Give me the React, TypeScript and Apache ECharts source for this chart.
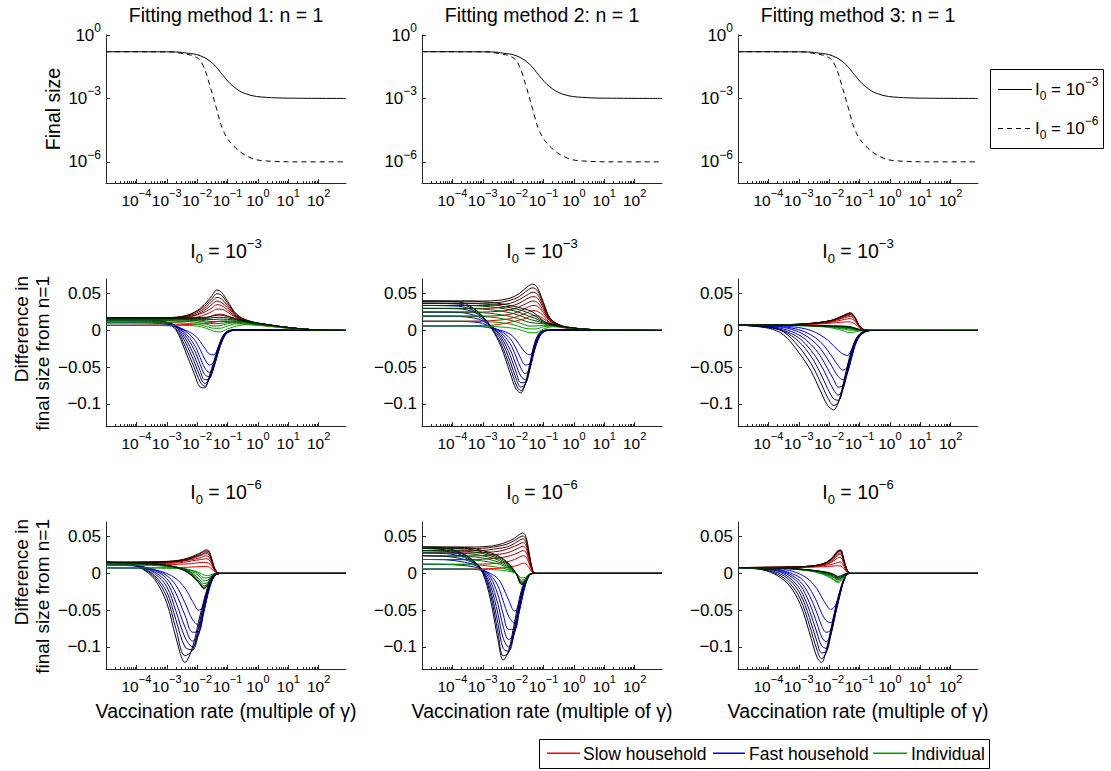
import React, { useEffect, useRef } from 'react';
import * as echarts from 'echarts';

const FONT = '"Liberation Sans", Arial, Helvetica, sans-serif';

// ---------- Top row: final size (n = 1), x = log10(vaccination rate) ----------
const TOP_X_I3 = [-5, -3, -2.6, -2.35, -1.9, -1.47, -1.14, -0.81, -0.37, 0.29, 1.4, 2.9];
const FINAL_SIZE_I3 = [0.162, 0.16, 0.155, 0.14, 0.105, 0.043, 0.0118, 0.0037, 0.0016, 0.00112, 0.00102, 0.001];
const TOP_X_I6 = [-5, -3, -2.57, -2.02, -1.8, -1.58, -1.36, -1.14, -0.81, -0.26, 0.29, 1.4, 2.9];
const FINAL_SIZE_I6 = [0.162, 0.16, 0.14, 0.087, 0.035, 0.004, 3.2e-4, 3.0e-5, 5.8e-6, 1.6e-6, 1.1e-6, 1.0e-6, 1.0e-6];

// ---------- Method 1, I0 = 1e-3 ----------
const M1_I3_RED_X = [-5, -3.0, -2.4, -2.0, -1.7, -1.5, -1.35, -1.2, -1.0, -0.7, -0.3, 0.3, 1.0, 1.8, 2.9];
const M1_I3_RED = [
  [0.007, 0.0075, 0.008, 0.0085, 0.0095, 0.011, 0.012, 0.0125, 0.012, 0.010, 0.008, 0.006, 0.003, 0.001, 0],
  [0.0105, 0.011, 0.012, 0.014, 0.017, 0.020, 0.022, 0.022, 0.020, 0.015, 0.011, 0.007, 0.0035, 0.001, 0],
  [0.013, 0.0135, 0.015, 0.018, 0.022, 0.026, 0.029, 0.029, 0.025, 0.017, 0.011, 0.007, 0.0035, 0.001, 0],
  [0.0145, 0.015, 0.017, 0.021, 0.026, 0.031, 0.035, 0.034, 0.028, 0.018, 0.012, 0.0075, 0.004, 0.001, 0],
  [0.0155, 0.016, 0.018, 0.022, 0.029, 0.036, 0.040, 0.038, 0.031, 0.019, 0.012, 0.0075, 0.004, 0.001, 0],
  [0.016, 0.0165, 0.019, 0.024, 0.032, 0.040, 0.045, 0.043, 0.034, 0.020, 0.012, 0.008, 0.004, 0.001, 0],
  [0.0167, 0.017, 0.0195, 0.026, 0.035, 0.044, 0.050, 0.048, 0.037, 0.021, 0.013, 0.008, 0.004, 0.001, 0],
  [0.0172, 0.0175, 0.020, 0.027, 0.038, 0.048, 0.055, 0.052, 0.040, 0.022, 0.013, 0.008, 0.004, 0.001, 0],
];
const M1_I3_BLUE_X = [-5, -3.5, -3.0, -2.7, -2.4, -2.1, -1.9, -1.75, -1.6, -1.45, -1.3, -1.15, -1.0, -0.7, 0, 2.9];
const M1_I3_BLUE = [
  [0.007, 0.007, 0.0065, 0.005, 0.0005, -0.006, -0.015, -0.024, -0.032, -0.033, -0.022, -0.010, -0.003, 0.0005, 0.0002, 0],
  [0.0105, 0.010, 0.0085, 0.006, -0.0005, -0.012, -0.026, -0.039, -0.047, -0.043, -0.027, -0.012, -0.003, 0.0005, 0.0003, 0],
  [0.013, 0.0125, 0.0095, 0.0065, -0.003, -0.019, -0.037, -0.051, -0.057, -0.048, -0.029, -0.012, -0.003, 0.001, 0.0005, 0],
  [0.0145, 0.014, 0.0105, 0.0065, -0.006, -0.026, -0.046, -0.060, -0.063, -0.050, -0.029, -0.011, -0.002, 0.001, 0.0005, 0],
  [0.0155, 0.015, 0.011, 0.006, -0.010, -0.034, -0.055, -0.067, -0.066, -0.050, -0.028, -0.010, -0.002, 0.001, 0.0005, 0],
  [0.016, 0.0155, 0.011, 0.005, -0.015, -0.042, -0.063, -0.072, -0.066, -0.048, -0.026, -0.009, -0.0015, 0.001, 0.0005, 0],
  [0.0167, 0.016, 0.0105, 0.003, -0.021, -0.050, -0.070, -0.076, -0.065, -0.045, -0.024, -0.008, -0.001, 0.001, 0.0005, 0],
  [0.0172, 0.0165, 0.010, 0.001, -0.027, -0.058, -0.077, -0.078, -0.062, -0.042, -0.022, -0.007, -0.001, 0.001, 0.0005, 0],
];
const M1_I3_GREEN_X = [-5, -3.0, -2.5, -2.0, -1.7, -1.45, -1.25, -1.0, -0.7, -0.3, 0.3, 1.0, 1.8, 2.9];
const M1_I3_GREEN = [
  [0.007, 0.007, 0.0068, 0.006, 0.003, -0.001, -0.002, 0.002, 0.006, 0.008, 0.006, 0.003, 0.001, 0],
  [0.0105, 0.0105, 0.010, 0.0085, 0.0055, 0.003, 0.003, 0.006, 0.009, 0.009, 0.0065, 0.0035, 0.001, 0],
  [0.013, 0.013, 0.0125, 0.011, 0.0085, 0.006, 0.0065, 0.009, 0.011, 0.010, 0.007, 0.0035, 0.001, 0],
  [0.0145, 0.0145, 0.014, 0.013, 0.011, 0.009, 0.0095, 0.011, 0.012, 0.010, 0.007, 0.004, 0.001, 0],
  [0.0155, 0.0155, 0.015, 0.0145, 0.013, 0.012, 0.0125, 0.013, 0.013, 0.011, 0.0075, 0.004, 0.001, 0],
  [0.016, 0.016, 0.0158, 0.0155, 0.015, 0.015, 0.0155, 0.015, 0.014, 0.011, 0.0075, 0.004, 0.001, 0],
  [0.0167, 0.0167, 0.0166, 0.0165, 0.0165, 0.0175, 0.018, 0.017, 0.015, 0.012, 0.008, 0.004, 0.001, 0],
  [0.0172, 0.0172, 0.0172, 0.0175, 0.018, 0.020, 0.021, 0.019, 0.016, 0.012, 0.008, 0.004, 0.001, 0],
];

// ---------- Method 2, I0 = 1e-3 ----------
const M2_I3_RED_X = [-5, -3.0, -2.5, -2.1, -1.8, -1.55, -1.35, -1.2, -1.0, -0.8, -0.5, 0, 1.0, 2.9];
const M2_I3_RED = [
  [0.006, 0.0065, 0.008, 0.011, 0.014, 0.017, 0.020, 0.020, 0.016, 0.010, 0.005, 0.002, 0.0005, 0],
  [0.0125, 0.0128, 0.014, 0.016, 0.020, 0.024, 0.027, 0.026, 0.020, 0.011, 0.006, 0.0025, 0.0005, 0],
  [0.0195, 0.0195, 0.020, 0.022, 0.026, 0.031, 0.034, 0.033, 0.024, 0.013, 0.006, 0.0025, 0.0005, 0],
  [0.025, 0.025, 0.026, 0.028, 0.032, 0.037, 0.040, 0.038, 0.027, 0.014, 0.007, 0.003, 0.0005, 0],
  [0.030, 0.030, 0.031, 0.033, 0.037, 0.043, 0.046, 0.044, 0.030, 0.015, 0.007, 0.003, 0.0005, 0],
  [0.034, 0.034, 0.035, 0.037, 0.042, 0.048, 0.052, 0.049, 0.033, 0.016, 0.007, 0.003, 0.0005, 0],
  [0.037, 0.037, 0.038, 0.041, 0.046, 0.054, 0.058, 0.054, 0.036, 0.017, 0.008, 0.003, 0.0005, 0],
  [0.040, 0.040, 0.041, 0.044, 0.050, 0.059, 0.063, 0.058, 0.038, 0.018, 0.008, 0.003, 0.0005, 0],
];
const M2_I3_BLUE_X = [-5, -3.8, -3.3, -3.0, -2.7, -2.4, -2.1, -1.9, -1.75, -1.6, -1.45, -1.3, -1.15, -1.0, -0.7, 0, 2.9];
const M2_I3_BLUE = [
  [0.006, 0.006, 0.006, 0.005, 0.003, 0.0, -0.005, -0.013, -0.022, -0.030, -0.033, -0.024, -0.010, -0.002, 0.0005, 0.0002, 0],
  [0.0125, 0.0123, 0.0115, 0.0095, 0.004, -0.001, -0.011, -0.025, -0.038, -0.047, -0.045, -0.027, -0.010, -0.002, 0.0005, 0.0003, 0],
  [0.0195, 0.019, 0.017, 0.013, 0.005, -0.003, -0.018, -0.036, -0.051, -0.059, -0.051, -0.028, -0.009, -0.002, 0.001, 0.0005, 0],
  [0.025, 0.0245, 0.021, 0.015, 0.005, -0.006, -0.026, -0.047, -0.062, -0.067, -0.053, -0.026, -0.008, -0.001, 0.001, 0.0005, 0],
  [0.030, 0.0295, 0.025, 0.017, 0.005, -0.009, -0.034, -0.057, -0.071, -0.071, -0.052, -0.024, -0.007, -0.001, 0.001, 0.0005, 0],
  [0.034, 0.033, 0.027, 0.018, 0.004, -0.013, -0.042, -0.066, -0.077, -0.073, -0.050, -0.022, -0.006, -0.001, 0.001, 0.0005, 0],
  [0.037, 0.036, 0.029, 0.019, 0.003, -0.018, -0.050, -0.074, -0.082, -0.073, -0.048, -0.020, -0.005, 0, 0.001, 0.0005, 0],
  [0.040, 0.039, 0.030, 0.019, 0.002, -0.022, -0.058, -0.080, -0.085, -0.072, -0.045, -0.018, -0.004, 0, 0.001, 0.0005, 0],
];
const M2_I3_GREEN_X = [-5, -3.5, -3.0, -2.5, -2.0, -1.7, -1.45, -1.25, -1.0, -0.7, -0.3, 0.3, 1.0, 2.9];
const M2_I3_GREEN = [
  [0.006, 0.006, 0.006, 0.005, 0.003, 0.0, -0.003, -0.003, 0.002, 0.005, 0.004, 0.002, 0.0005, 0],
  [0.0125, 0.0125, 0.012, 0.011, 0.008, 0.004, 0.002, 0.002, 0.005, 0.006, 0.004, 0.002, 0.0005, 0],
  [0.0195, 0.0195, 0.019, 0.017, 0.013, 0.009, 0.006, 0.006, 0.007, 0.0065, 0.004, 0.002, 0.0005, 0],
  [0.025, 0.025, 0.024, 0.022, 0.018, 0.014, 0.011, 0.010, 0.009, 0.007, 0.0045, 0.002, 0.0005, 0],
  [0.030, 0.030, 0.029, 0.027, 0.023, 0.019, 0.015, 0.013, 0.010, 0.007, 0.0045, 0.002, 0.0005, 0],
  [0.034, 0.034, 0.033, 0.031, 0.027, 0.023, 0.019, 0.016, 0.011, 0.0075, 0.005, 0.002, 0.0005, 0],
  [0.037, 0.037, 0.036, 0.034, 0.030, 0.027, 0.023, 0.019, 0.012, 0.008, 0.005, 0.002, 0.0005, 0],
  [0.040, 0.040, 0.039, 0.037, 0.033, 0.030, 0.027, 0.022, 0.013, 0.008, 0.005, 0.002, 0.0005, 0],
];

// ---------- Method 3, I0 = 1e-3 ----------
const M3_I3_RED_X = [-5, -3.5, -2.8, -2.3, -1.9, -1.6, -1.4, -1.3, -1.15, -1.0, -0.8, -0.5, 2.9];
const M3_I3_RED = [
  [0.0075, 0.0075, 0.008, 0.0088, 0.010, 0.0112, 0.0118, 0.0115, 0.009, 0.0035, 0.0003, 0, 0],
  [0.0075, 0.0076, 0.0082, 0.0095, 0.0115, 0.014, 0.0158, 0.016, 0.0128, 0.0045, 0.0004, 0, 0],
  [0.0075, 0.0077, 0.0085, 0.010, 0.0125, 0.016, 0.0185, 0.019, 0.015, 0.0052, 0.0005, 0, 0],
  [0.0075, 0.0077, 0.0087, 0.0105, 0.013, 0.0172, 0.0202, 0.021, 0.0163, 0.0056, 0.0005, 0, 0],
  [0.0075, 0.0077, 0.0088, 0.0108, 0.0135, 0.018, 0.0212, 0.022, 0.017, 0.0058, 0.0005, 0, 0],
  [0.0075, 0.0078, 0.009, 0.011, 0.0138, 0.0185, 0.022, 0.023, 0.0175, 0.006, 0.0005, 0, 0],
  [0.0075, 0.0078, 0.009, 0.011, 0.014, 0.019, 0.0225, 0.0235, 0.0178, 0.006, 0.0005, 0, 0],
  [0.0075, 0.0078, 0.009, 0.011, 0.014, 0.019, 0.023, 0.024, 0.018, 0.006, 0.0005, 0, 0],
];
const M3_I3_BLUE_X = [-5, -4.0, -3.5, -3.0, -2.6, -2.3, -2.05, -1.85, -1.7, -1.55, -1.4, -1.25, -1.1, -0.9, -0.6, 2.9];
const M3_I3_BLUE = [
  [0.007, 0.0068, 0.006, 0.004, 0.0, -0.006, -0.013, -0.021, -0.027, -0.032, -0.034, -0.025, -0.012, -0.003, 0, 0],
  [0.007, 0.0065, 0.005, 0.001, -0.006, -0.015, -0.027, -0.039, -0.048, -0.054, -0.050, -0.033, -0.015, -0.004, 0, 0],
  [0.007, 0.006, 0.004, -0.002, -0.012, -0.024, -0.039, -0.053, -0.063, -0.067, -0.058, -0.036, -0.016, -0.004, 0, 0],
  [0.007, 0.0055, 0.002, -0.006, -0.019, -0.034, -0.052, -0.067, -0.077, -0.075, -0.058, -0.034, -0.015, -0.004, 0, 0],
  [0.007, 0.005, 0.0, -0.010, -0.027, -0.045, -0.065, -0.081, -0.088, -0.080, -0.057, -0.032, -0.014, -0.003, 0, 0],
  [0.0072, 0.0045, -0.001, -0.015, -0.035, -0.057, -0.079, -0.093, -0.095, -0.081, -0.054, -0.030, -0.013, -0.003, 0, 0],
  [0.0073, 0.004, -0.002, -0.022, -0.045, -0.069, -0.091, -0.102, -0.098, -0.079, -0.051, -0.027, -0.011, -0.002, 0, 0],
  [0.0075, 0.003, -0.006, -0.030, -0.055, -0.081, -0.102, -0.108, -0.098, -0.075, -0.048, -0.025, -0.010, -0.002, 0, 0],
];
const M3_I3_GREEN_X = [-5, -3.0, -2.4, -2.0, -1.7, -1.5, -1.35, -1.2, -1.0, -0.8, -0.5, 2.9];
const M3_I3_GREEN = [
  [0.0075, 0.0065, 0.0055, 0.004, 0.0015, -0.001, -0.0028, -0.0025, -0.0008, 0, 0, 0],
  [0.0075, 0.0067, 0.0058, 0.0048, 0.003, 0.0015, 0.0005, 0.0002, 0, 0, 0, 0],
  [0.0075, 0.0068, 0.006, 0.0052, 0.004, 0.003, 0.0022, 0.0015, 0.0003, 0, 0, 0],
  [0.0075, 0.007, 0.0062, 0.0056, 0.0048, 0.004, 0.0033, 0.0024, 0.0006, 0, 0, 0],
  [0.0075, 0.007, 0.0063, 0.0058, 0.0052, 0.0045, 0.004, 0.0028, 0.0008, 0, 0, 0],
  [0.0075, 0.007, 0.0064, 0.006, 0.0055, 0.005, 0.0045, 0.003, 0.001, 0, 0, 0],
  [0.0075, 0.007, 0.0065, 0.006, 0.0058, 0.0055, 0.005, 0.0035, 0.001, 0, 0, 0],
  [0.0075, 0.007, 0.0065, 0.0062, 0.006, 0.0058, 0.0055, 0.004, 0.0015, 0, 0, 0],
];

// ---------- Method 1, I0 = 1e-6 ----------
const M1_I6_RED_X = [-5, -3.5, -3.0, -2.6, -2.3, -2.05, -1.85, -1.72, -1.62, -1.52, -1.4, -1.25, 2.9];
const M1_I6_RED = [
  [0.0075, 0.0076, 0.0078, 0.008, 0.0085, 0.009, 0.0095, 0.0095, 0.009, 0.006, 0.002, 0, 0],
  [0.0115, 0.0117, 0.012, 0.0125, 0.013, 0.014, 0.015, 0.015, 0.014, 0.010, 0.003, 0, 0],
  [0.013, 0.0132, 0.0137, 0.0145, 0.016, 0.018, 0.019, 0.020, 0.019, 0.013, 0.003, 0, 0],
  [0.014, 0.0142, 0.0147, 0.016, 0.018, 0.020, 0.022, 0.024, 0.023, 0.015, 0.004, 0, 0],
  [0.0145, 0.0148, 0.0152, 0.0165, 0.019, 0.022, 0.025, 0.027, 0.026, 0.017, 0.004, 0, 0],
  [0.015, 0.0152, 0.0158, 0.017, 0.0195, 0.023, 0.026, 0.029, 0.028, 0.018, 0.004, 0, 0],
  [0.0152, 0.0155, 0.016, 0.0175, 0.020, 0.024, 0.028, 0.0305, 0.030, 0.019, 0.005, 0, 0],
  [0.0155, 0.0158, 0.0165, 0.018, 0.021, 0.025, 0.029, 0.032, 0.031, 0.020, 0.005, 0, 0],
];
const M1_I6_BLUE_X = [-5, -4.2, -3.8, -3.4, -3.0, -2.7, -2.4, -2.15, -1.95, -1.8, -1.65, -1.5, -1.35, -1.2, 2.9];
const M1_I6_BLUE = [
  [0.0075, 0.0073, 0.007, 0.005, 0.0, -0.007, -0.020, -0.038, -0.050, -0.045, -0.027, -0.009, -0.001, 0, 0],
  [0.0115, 0.0105, 0.009, 0.005, -0.003, -0.016, -0.040, -0.063, -0.070, -0.055, -0.029, -0.009, -0.001, 0, 0],
  [0.013, 0.0115, 0.009, 0.004, -0.007, -0.027, -0.057, -0.080, -0.079, -0.057, -0.028, -0.008, -0.001, 0, 0],
  [0.014, 0.012, 0.009, 0.002, -0.012, -0.039, -0.073, -0.092, -0.083, -0.055, -0.026, -0.007, -0.001, 0, 0],
  [0.0145, 0.0125, 0.009, 0.0, -0.018, -0.051, -0.087, -0.100, -0.082, -0.052, -0.024, -0.007, -0.001, 0, 0],
  [0.015, 0.0125, 0.008, -0.003, -0.025, -0.063, -0.100, -0.104, -0.078, -0.048, -0.022, -0.006, -0.001, 0, 0],
  [0.0152, 0.0125, 0.007, -0.005, -0.032, -0.075, -0.112, -0.104, -0.072, -0.044, -0.020, -0.006, -0.001, 0, 0],
  [0.0155, 0.012, 0.006, -0.008, -0.040, -0.087, -0.121, -0.100, -0.065, -0.040, -0.018, -0.005, -0.0005, 0, 0],
];
const M1_I6_GREEN_X = [-5, -3.5, -3.0, -2.6, -2.3, -2.05, -1.9, -1.78, -1.65, -1.5, -1.35, 2.9];
const M1_I6_GREEN = [
  [0.0075, 0.0075, 0.007, 0.0065, 0.005, 0.003, 0.0005, -0.002, -0.003, -0.001, 0, 0],
  [0.0115, 0.011, 0.0095, 0.008, 0.0055, 0.002, -0.002, -0.006, -0.006, -0.002, 0, 0],
  [0.013, 0.012, 0.010, 0.008, 0.005, 0.0, -0.005, -0.010, -0.009, -0.003, 0, 0],
  [0.014, 0.0125, 0.0105, 0.008, 0.004, -0.003, -0.009, -0.014, -0.012, -0.003, 0, 0],
  [0.0145, 0.0128, 0.011, 0.008, 0.003, -0.005, -0.012, -0.017, -0.014, -0.004, 0, 0],
  [0.015, 0.013, 0.011, 0.0075, 0.002, -0.007, -0.014, -0.019, -0.015, -0.004, 0, 0],
  [0.0152, 0.0133, 0.011, 0.007, 0.001, -0.008, -0.015, -0.020, -0.016, -0.004, 0, 0],
  [0.0155, 0.0135, 0.011, 0.007, 0.001, -0.008, -0.015, -0.021, -0.016, -0.004, 0, 0],
];

// ---------- Method 2, I0 = 1e-6 ----------
const M2_I6_RED_X = [-5, -3.2, -2.8, -2.5, -2.2, -1.95, -1.8, -1.68, -1.58, -1.48, -1.38, -1.28, 2.9];
const M2_I6_RED = [
  [0.006, 0.0062, 0.0065, 0.007, 0.008, 0.010, 0.012, 0.014, 0.013, 0.008, 0.002, 0, 0],
  [0.0125, 0.0127, 0.013, 0.014, 0.016, 0.019, 0.022, 0.024, 0.023, 0.014, 0.004, 0, 0],
  [0.019, 0.019, 0.020, 0.021, 0.023, 0.026, 0.029, 0.031, 0.029, 0.018, 0.005, 0, 0],
  [0.024, 0.024, 0.025, 0.026, 0.028, 0.032, 0.035, 0.037, 0.034, 0.021, 0.005, 0, 0],
  [0.028, 0.028, 0.029, 0.030, 0.033, 0.037, 0.040, 0.042, 0.039, 0.024, 0.006, 0, 0],
  [0.031, 0.031, 0.032, 0.034, 0.036, 0.041, 0.045, 0.047, 0.043, 0.026, 0.007, 0, 0],
  [0.034, 0.034, 0.035, 0.037, 0.040, 0.045, 0.049, 0.051, 0.047, 0.028, 0.007, 0, 0],
  [0.036, 0.036, 0.037, 0.039, 0.043, 0.048, 0.053, 0.055, 0.050, 0.030, 0.008, 0, 0],
];
const M2_I6_BLUE_X = [-5, -4.2, -3.7, -3.3, -3.0, -2.75, -2.5, -2.33, -2.15, -1.95, -1.8, -1.65, -1.5, -1.35, 2.9];
const M2_I6_BLUE = [
  [0.006, 0.006, 0.006, 0.0055, 0.004, 0.0, -0.007, -0.019, -0.036, -0.051, -0.045, -0.023, -0.005, 0, 0],
  [0.0125, 0.0122, 0.011, 0.009, 0.005, -0.002, -0.017, -0.037, -0.058, -0.068, -0.052, -0.024, -0.005, 0, 0],
  [0.019, 0.0185, 0.016, 0.012, 0.005, -0.005, -0.029, -0.055, -0.076, -0.076, -0.052, -0.023, -0.005, 0, 0],
  [0.024, 0.023, 0.020, 0.014, 0.005, -0.010, -0.042, -0.072, -0.090, -0.080, -0.050, -0.021, -0.004, 0, 0],
  [0.028, 0.027, 0.023, 0.015, 0.004, -0.016, -0.055, -0.088, -0.100, -0.080, -0.047, -0.019, -0.004, 0, 0],
  [0.031, 0.030, 0.025, 0.016, 0.003, -0.022, -0.068, -0.102, -0.106, -0.077, -0.044, -0.017, -0.003, 0, 0],
  [0.034, 0.032, 0.027, 0.017, 0.002, -0.028, -0.080, -0.112, -0.108, -0.072, -0.040, -0.015, -0.003, 0, 0],
  [0.036, 0.034, 0.028, 0.017, 0.0, -0.035, -0.090, -0.118, -0.105, -0.065, -0.035, -0.013, -0.002, 0, 0],
];
const M2_I6_GREEN_X = [-5, -3.5, -3.0, -2.6, -2.3, -2.05, -1.9, -1.72, -1.58, -1.45, -1.3, 2.9];
const M2_I6_GREEN = [
  [0.006, 0.006, 0.0055, 0.005, 0.004, 0.002, 0.0, -0.006, -0.005, -0.001, 0, 0],
  [0.0125, 0.012, 0.011, 0.009, 0.007, 0.003, 0.0, -0.009, -0.007, -0.001, 0, 0],
  [0.019, 0.0185, 0.017, 0.014, 0.010, 0.004, 0.0, -0.011, -0.008, -0.001, 0, 0],
  [0.024, 0.023, 0.021, 0.017, 0.012, 0.005, 0.0, -0.012, -0.009, -0.001, 0, 0],
  [0.028, 0.027, 0.024, 0.020, 0.014, 0.006, 0.0, -0.013, -0.009, -0.001, 0, 0],
  [0.031, 0.030, 0.027, 0.022, 0.016, 0.007, 0.0, -0.014, -0.010, -0.001, 0, 0],
  [0.034, 0.033, 0.029, 0.024, 0.018, 0.008, 0.0, -0.015, -0.010, -0.001, 0, 0],
  [0.036, 0.035, 0.031, 0.026, 0.019, 0.009, 0.0, -0.015, -0.010, -0.001, 0, 0],
];

// ---------- Method 3, I0 = 1e-6 ----------
const M3_I6_RED_X = [-5, -3.5, -3.0, -2.6, -2.3, -2.05, -1.85, -1.72, -1.62, -1.52, -1.42, -1.3, 2.9];
const M3_I6_RED = [
  [0.008, 0.008, 0.0082, 0.0085, 0.009, 0.0095, 0.010, 0.0105, 0.010, 0.007, 0.002, 0, 0],
  [0.008, 0.0082, 0.0086, 0.009, 0.010, 0.0115, 0.013, 0.015, 0.0155, 0.010, 0.003, 0, 0],
  [0.008, 0.0083, 0.0088, 0.0095, 0.011, 0.013, 0.017, 0.021, 0.022, 0.014, 0.004, 0, 0],
  [0.008, 0.0085, 0.009, 0.010, 0.0115, 0.014, 0.019, 0.025, 0.026, 0.016, 0.005, 0, 0],
  [0.008, 0.0085, 0.009, 0.010, 0.0115, 0.015, 0.021, 0.027, 0.028, 0.017, 0.005, 0, 0],
  [0.008, 0.0085, 0.009, 0.010, 0.012, 0.0155, 0.022, 0.029, 0.030, 0.018, 0.005, 0, 0],
  [0.008, 0.0085, 0.009, 0.010, 0.012, 0.016, 0.023, 0.030, 0.031, 0.019, 0.006, 0, 0],
  [0.008, 0.0085, 0.009, 0.010, 0.012, 0.016, 0.024, 0.031, 0.032, 0.020, 0.006, 0, 0],
];
const M3_I6_BLUE_X = [-5, -4.2, -3.7, -3.3, -2.95, -2.65, -2.4, -2.25, -2.1, -1.95, -1.8, -1.65, -1.5, -1.35, 2.9];
const M3_I6_BLUE = [
  [0.008, 0.0078, 0.007, 0.004, -0.001, -0.009, -0.021, -0.032, -0.042, -0.049, -0.044, -0.026, -0.008, 0, 0],
  [0.008, 0.0075, 0.006, 0.001, -0.006, -0.020, -0.039, -0.054, -0.064, -0.067, -0.052, -0.029, -0.008, 0, 0],
  [0.008, 0.0072, 0.005, -0.001, -0.011, -0.030, -0.054, -0.071, -0.080, -0.077, -0.056, -0.030, -0.008, 0, 0],
  [0.008, 0.007, 0.004, -0.003, -0.016, -0.040, -0.068, -0.086, -0.093, -0.083, -0.057, -0.030, -0.008, 0, 0],
  [0.008, 0.0065, 0.003, -0.006, -0.022, -0.050, -0.081, -0.098, -0.102, -0.085, -0.056, -0.029, -0.008, 0, 0],
  [0.008, 0.006, 0.001, -0.009, -0.028, -0.060, -0.093, -0.108, -0.107, -0.084, -0.054, -0.027, -0.007, 0, 0],
  [0.008, 0.0055, -0.001, -0.013, -0.035, -0.070, -0.104, -0.116, -0.108, -0.081, -0.051, -0.026, -0.007, 0, 0],
  [0.008, 0.005, -0.003, -0.017, -0.042, -0.080, -0.114, -0.121, -0.105, -0.077, -0.048, -0.024, -0.006, 0, 0],
];
const M3_I6_GREEN_X = [-5, -3.5, -3.0, -2.6, -2.3, -2.05, -1.85, -1.7, -1.55, -1.42, 2.9];
const M3_I6_GREEN = [
  [0.008, 0.0067, 0.0052, 0.003, 0.0, -0.004, -0.009, -0.0125, -0.007, 0, 0],
  [0.008, 0.0068, 0.0054, 0.0035, 0.001, -0.003, -0.008, -0.011, -0.006, 0, 0],
  [0.008, 0.007, 0.0056, 0.0038, 0.0015, -0.002, -0.006, -0.009, -0.005, 0, 0],
  [0.008, 0.007, 0.0058, 0.004, 0.002, -0.001, -0.005, -0.008, -0.005, 0, 0],
  [0.008, 0.007, 0.006, 0.0043, 0.0025, 0.0, -0.004, -0.007, -0.004, 0, 0],
  [0.008, 0.007, 0.006, 0.0045, 0.0028, 0.0005, -0.003, -0.006, -0.004, 0, 0],
  [0.008, 0.007, 0.006, 0.0045, 0.003, 0.001, -0.002, -0.005, -0.003, 0, 0],
  [0.008, 0.007, 0.006, 0.0045, 0.003, 0.0015, -0.001, -0.004, -0.002, 0, 0],
];

// ---------- Axis ticks & labels ----------
const X_MAJOR = [-4, -3, -2, -1, 0, 1, 2];
const Y_TOP_TICKS = [-6, -3, 0];
const Y_DIFF_TICKS = [-0.1, -0.05, 0, 0.05];
const METHOD_TITLES = ['Fitting method 1: n = 1', 'Fitting method 2: n = 1', 'Fitting method 3: n = 1'];
const ROW_EXPONENTS = ['\u22123', '\u22126'];
const LEGEND_ITEMS = ['Slow household', 'Fast household', 'Individual'];

// ---------- layout ----------
const GRID_LEFT = [106, 422, 738];
const GRID_TOP = [35, 279, 522];
const GRID_H = [148, 147, 147];
const GRID_W = 240;
const RED: [number, number, number] = [235, 0, 0];
const BLUE: [number, number, number] = [0, 0, 255];
const GREEN: [number, number, number] = [0, 165, 0];

const PANELS = [
  { red: [M1_I3_RED_X, M1_I3_RED], blue: [M1_I3_BLUE_X, M1_I3_BLUE], green: [M1_I3_GREEN_X, M1_I3_GREEN] },
  { red: [M2_I3_RED_X, M2_I3_RED], blue: [M2_I3_BLUE_X, M2_I3_BLUE], green: [M2_I3_GREEN_X, M2_I3_GREEN] },
  { red: [M3_I3_RED_X, M3_I3_RED], blue: [M3_I3_BLUE_X, M3_I3_BLUE], green: [M3_I3_GREEN_X, M3_I3_GREEN] },
  { red: [M1_I6_RED_X, M1_I6_RED], blue: [M1_I6_BLUE_X, M1_I6_BLUE], green: [M1_I6_GREEN_X, M1_I6_GREEN] },
  { red: [M2_I6_RED_X, M2_I6_RED], blue: [M2_I6_BLUE_X, M2_I6_BLUE], green: [M2_I6_GREEN_X, M2_I6_GREEN] },
  { red: [M3_I6_RED_X, M3_I6_RED], blue: [M3_I6_BLUE_X, M3_I6_BLUE], green: [M3_I6_GREEN_X, M3_I6_GREEN] },
] as any[];

function shade(base: [number, number, number], i: number, n: number) {
  const f = 1 - 0.86 * (i / (n - 1));
  return `rgb(${Math.round(base[0] * f)},${Math.round(base[1] * f)},${Math.round(base[2] * f)})`;
}

const minorTicks: number[] = [];
for (let d = -5; d <= 1; d++) for (let k = 2; k <= 9; k++) minorTicks.push(d + Math.log10(k));

const expFmt = (v: number) => {
  const k = Math.round(v);
  return `{b|10}{s|${k < 0 ? '\u2212' + -k : String(k)}}`;
};
const tickRich = {
  b: { fontSize: 15.5, fontFamily: FONT, lineHeight: 26, color: '#000' },
  s: { fontSize: 11, fontFamily: FONT, lineHeight: 8, verticalAlign: 'top', color: '#000' },
};
const AXIS_COLOR = '#262626';

function buildOption() {
  const grid: any[] = [];
  const xAxis: any[] = [];
  const yAxis: any[] = [];
  const series: any[] = [];
  for (let r = 0; r < 3; r++) {
    for (let c = 0; c < 3; c++) {
      const g = r * 3 + c;
      grid.push({ left: GRID_LEFT[c], top: GRID_TOP[r], width: GRID_W, height: GRID_H[r], containLabel: false, outerBoundsMode: 'none' });
      xAxis.push({
        type: 'value', gridIndex: g, min: -5, max: 2.9, position: 'bottom',
        axisLine: { show: true, onZero: false, lineStyle: { color: AXIS_COLOR, width: 1 } },
        axisTick: { show: true, inside: true, length: 4, customValues: X_MAJOR, lineStyle: { color: AXIS_COLOR } },
        axisLabel: { show: true, customValues: X_MAJOR, formatter: expFmt, rich: tickRich, margin: 4, showMinLabel: true, showMaxLabel: true, hideOverlap: false },
        splitLine: { show: false },
      });
      xAxis.push({
        type: 'value', gridIndex: g, min: -5, max: 2.9, position: 'bottom',
        axisLine: { show: false, onZero: false },
        axisTick: { show: true, inside: true, length: 2, customValues: minorTicks, lineStyle: { color: AXIS_COLOR } },
        axisLabel: { show: false },
        splitLine: { show: false },
      });
      if (r === 0) {
        yAxis.push({
          type: 'value', gridIndex: g, min: -7, max: 0,
          axisLine: { show: true, onZero: false, lineStyle: { color: AXIS_COLOR, width: 1 } },
          axisTick: { show: true, inside: true, length: 4, customValues: Y_TOP_TICKS, lineStyle: { color: AXIS_COLOR } },
          axisLabel: {
            show: true, customValues: Y_TOP_TICKS, formatter: expFmt, margin: 5, showMinLabel: true, showMaxLabel: true,
            rich: {
              b: { fontSize: 17, fontFamily: FONT, lineHeight: 26, color: '#000' },
              s: { fontSize: 12, fontFamily: FONT, lineHeight: 8, verticalAlign: 'top', color: '#000' },
            },
          },
          splitLine: { show: false },
        });
        series.push({
          type: 'line', xAxisIndex: g * 2, yAxisIndex: g, symbol: 'none', smooth: 0.4, silent: true,
          data: TOP_X_I3.map((x, i) => [x, Math.log10(FINAL_SIZE_I3[i])]),
          lineStyle: { color: '#000', width: 1 },
        });
        series.push({
          type: 'line', xAxisIndex: g * 2, yAxisIndex: g, symbol: 'none', smooth: 0.4, silent: true,
          data: TOP_X_I6.map((x, i) => [x, Math.log10(FINAL_SIZE_I6[i])]),
          lineStyle: { color: '#000', width: 1, type: [5, 4] },
        });
      } else {
        yAxis.push({
          type: 'value', gridIndex: g, min: -0.13, max: 0.07,
          axisLine: { show: true, onZero: false, lineStyle: { color: AXIS_COLOR, width: 1 } },
          axisTick: { show: true, inside: true, length: 4, customValues: Y_DIFF_TICKS, lineStyle: { color: AXIS_COLOR } },
          axisLabel: {
            show: true, customValues: Y_DIFF_TICKS, margin: 5, fontSize: 17, fontFamily: FONT, color: '#000',
            showMinLabel: true, showMaxLabel: true,
            formatter: (v: number) => String(+v.toFixed(2)).replace('-', '\u2212'),
          },
          splitLine: { show: false },
        });
        const p = PANELS[(r - 1) * 3 + c];
        const fams: [string, [number, number, number]][] = [['red', RED], ['blue', BLUE], ['green', GREEN]];
        for (const [key, base] of fams) {
          const [xs, curves] = p[key];
          curves.forEach((ys: number[], i: number) => {
            series.push({
              type: 'line', xAxisIndex: g * 2, yAxisIndex: g, symbol: 'none', smooth: 0.35, silent: true,
              data: xs.map((x: number, j: number) => [x, ys[j]]),
              lineStyle: { color: shade(base, i, curves.length), width: 1 },
            });
          });
        }
      }
    }
  }

  const centers = GRID_LEFT.map((l) => l + GRID_W / 2);
  const graphic: any[] = [];
  const titleRich = {
    b: { fontSize: 19.5, fontFamily: FONT, lineHeight: 28, fill: '#000' },
    sub: { fontSize: 13, fontFamily: FONT, lineHeight: 10, verticalAlign: 'bottom', fill: '#000' },
    sup: { fontSize: 13, fontFamily: FONT, lineHeight: 10, verticalAlign: 'top', fill: '#000' },
  };
  centers.forEach((cx, c) => {
    graphic.push({ type: 'text', x: cx, y: 15, style: { text: METHOD_TITLES[c], fontSize: 19.5, fontFamily: FONT, fill: '#000', align: 'center', verticalAlign: 'middle' } });
    graphic.push({ type: 'text', x: cx, y: 251, style: { text: `{b|I}{sub|0}{b| = 10}{sup|${ROW_EXPONENTS[0]}}`, rich: titleRich, fill: '#000', align: 'center', verticalAlign: 'middle' } });
    graphic.push({ type: 'text', x: cx, y: 492, style: { text: `{b|I}{sub|0}{b| = 10}{sup|${ROW_EXPONENTS[1]}}`, rich: titleRich, fill: '#000', align: 'center', verticalAlign: 'middle' } });
    graphic.push({ type: 'text', x: cx, y: 711, style: { text: 'Vaccination rate (multiple of \u03b3)', fontSize: 19.5, fontFamily: FONT, fill: '#000', align: 'center', verticalAlign: 'middle' } });
  });
  graphic.push({ type: 'text', x: 53, y: 109, rotation: Math.PI / 2, style: { text: 'Final size', fontSize: 19.5, fontFamily: FONT, fill: '#000', align: 'center', verticalAlign: 'middle' } });
  [276, 519].forEach((yTop) => {
    graphic.push({ type: 'text', x: 31.5, y: yTop, rotation: Math.PI / 2, style: { text: 'Difference in\nfinal size from n=1', fontSize: 19, lineHeight: 21, fontFamily: FONT, fill: '#000', align: 'right', verticalAlign: 'middle' } });
  });

  // legend: I0 curves
  const legRich = {
    b: { fontSize: 17, fontFamily: FONT, lineHeight: 26, fill: '#000' },
    sub: { fontSize: 12, fontFamily: FONT, lineHeight: 9, verticalAlign: 'bottom', fill: '#000' },
    sup: { fontSize: 12, fontFamily: FONT, lineHeight: 9, verticalAlign: 'top', fill: '#000' },
  };
  graphic.push({ type: 'rect', z: 10, shape: { x: 990.5, y: 69.5, width: 113, height: 79 }, style: { fill: '#fff', stroke: '#000', lineWidth: 1 } });
  graphic.push({ type: 'line', z: 11, shape: { x1: 998, y1: 89.5, x2: 1032, y2: 89.5 }, style: { stroke: '#000000', lineWidth: 1 } });
  graphic.push({ type: 'line', z: 11, shape: { x1: 998, y1: 128.5, x2: 1032, y2: 128.5 }, style: { stroke: '#000000', lineWidth: 1, lineDash: [5, 4] } });
  graphic.push({ type: 'text', z: 11, x: 1035, y: 89, style: { text: `{b|I}{sub|0}{b| = 10}{sup|${ROW_EXPONENTS[0]}}`, rich: legRich, fill: '#000', align: 'left', verticalAlign: 'middle' } });
  graphic.push({ type: 'text', z: 11, x: 1035, y: 128, style: { text: `{b|I}{sub|0}{b| = 10}{sup|${ROW_EXPONENTS[1]}}`, rich: legRich, fill: '#000', align: 'left', verticalAlign: 'middle' } });

  // legend: model families
  graphic.push({ type: 'rect', z: 10, shape: { x: 539.5, y: 739.5, width: 450, height: 29 }, style: { fill: '#fff', stroke: '#000', lineWidth: 1 } });
  const legX = [[547, 580, 583], [713, 745, 749], [873, 907, 911]];
  const legCol = ['#ff0000', '#0000ff', '#00a000'];
  LEGEND_ITEMS.forEach((t, i) => {
    graphic.push({ type: 'rect', z: 11, shape: { x: legX[i][0], y: 752.5, width: legX[i][1] - legX[i][0], height: 1.5 }, style: { fill: legCol[i], stroke: null } });
    graphic.push({ type: 'text', z: 11, x: legX[i][2], y: 754, style: { text: t, fontSize: 17.5, fontFamily: FONT, fill: '#000', align: 'left', verticalAlign: 'middle' } });
  });

  return {
    animation: false,
    backgroundColor: '#fff',
    textStyle: { fontFamily: FONT },
    grid, xAxis, yAxis, series, graphic,
  };
}

export default function App() {
  const ref = useRef<HTMLDivElement>(null);
  useEffect(() => {
    if (!ref.current) return;
    const chart = echarts.init(ref.current, undefined, { renderer: 'svg' });
    chart.setOption(buildOption() as any);
    return () => chart.dispose();
  }, []);
  return <div ref={ref} style={{ position: 'absolute', left: 0, top: 0, width: 1111, height: 771, background: '#fff' }} />;
}
